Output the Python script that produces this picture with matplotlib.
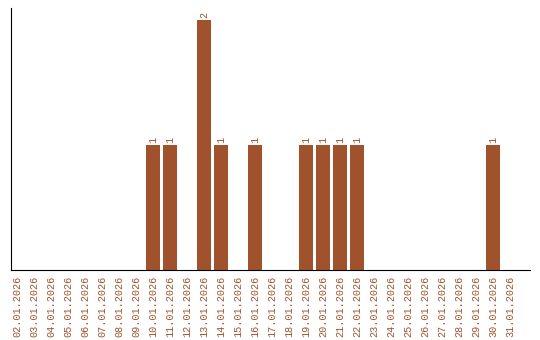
import numpy as np
import matplotlib.pyplot as plt

plt.rcParams['font.family'] = ['Liberation Mono', 'DejaVu Sans Mono']

dates = ['%02d.01.2026' % d for d in range(2, 32)]
counts = [0, 0, 0, 0, 0, 0, 0, 0, 1, 1, 0, 2, 1, 0, 1, 0, 0, 1, 1, 1, 1,
          0, 0, 0, 0, 0, 0, 0, 1, 0]

bar_color = '#A0522D'

fig = plt.figure(figsize=(5.4, 3.4), dpi=100)
ax = fig.add_axes([11/540, 70/340, 519/540, 262/340])

x = np.arange(len(dates))
bars = ax.bar(x, counts, width=0.82, color=bar_color)

# labels on top of the bars
for xi, v in zip(x, counts):
    if v > 0:
        ax.text(xi, v + 0.02, str(v), rotation=90, ha='center', va='bottom',
                fontsize=7.3, color=bar_color)

ax.set_xticks(x)
ax.set_xticklabels(dates, rotation=90, fontsize=7.3, color=bar_color)
ax.tick_params(axis='x', length=0, pad=4)
ax.set_yticks([])
ax.set_xlim(-0.35, len(dates) - 1 + 1.18)
ax.set_ylim(0, 2.1)
ax.spines['top'].set_visible(False)
ax.spines['right'].set_visible(False)

fig.savefig('out.png', dpi=100)
